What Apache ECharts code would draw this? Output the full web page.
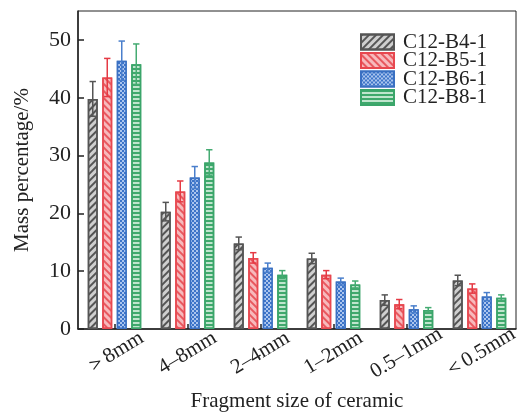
<!DOCTYPE html>
<html>
<head>
<meta charset="utf-8">
<script src="https://cdn.jsdelivr.net/npm/echarts@6/dist/echarts.min.js"></script>
<style>html,body{margin:0;padding:0;background:#fff}#c{width:518px;height:412px}</style>
</head>
<body>
<div id="c"></div>
<script>
var categories = ['＞8mm', '4–8mm', '2–4mm', '1–2mm', '0.5–1mm', '＜0.5mm'];
var seriesNames = ['C12-B4-1', 'C12-B5-1', 'C12-B6-1', 'C12-B8-1'];
var b4 = [39.8, 20.3, 14.8, 12.2, 5.0, 8.4];
var b5 = [43.5, 23.8, 12.3, 9.4, 4.3, 7.0];
var b6 = [46.4, 26.2, 10.6, 8.2, 3.4, 5.6];
var b8 = [45.8, 28.8, 9.4, 7.7, 3.3, 5.4];
var b4Err = [3.0, 1.6, 1.1, 0.9, 0.9, 0.9];
var b5Err = [3.3, 1.8, 0.9, 0.7, 0.8, 0.8];
var b6Err = [3.4, 1.9, 0.8, 0.6, 0.6, 0.7];
var b8Err = [3.5, 2.2, 0.7, 0.6, 0.4, 0.5];
var yTicks = [0, 10, 20, 30, 40, 50];

var values = [b4, b5, b6, b8];
var errs = [b4Err, b5Err, b6Err, b8Err];
var FONT = 'Liberation Serif';
var BAR_W = 10, BAR_GAP = 0.45;
var styles = [
  {fill: '#cfcfcf', border: '#555555', err: '#555555',
   decal: {symbol: 'rect', symbolSize: 1, color: '#555555', dashArrayX: [1, 0], dashArrayY: [1.3, 2.2], rotation: -Math.PI / 4}},
  {fill: '#f7b9bc', border: '#e8474f', err: '#e53a44',
   decal: {symbol: 'rect', symbolSize: 1, color: '#e8585f', dashArrayX: [1, 0], dashArrayY: [1.3, 2.2], rotation: Math.PI / 4}},
  {fill: '#3d74c8', border: '#3a70c2', err: '#4a7fcc',
   decal: {symbol: 'rect', symbolSize: 1, color: 'rgba(190,212,245,0.85)', dashArrayX: [[1.5, 1.5], [0, 1.5, 1.5, 0]], dashArrayY: [1.5, 0]}},
  {fill: '#bfe5cd', border: '#3aa56a', err: '#45ab72',
   decal: {symbol: 'rect', symbolSize: 1, color: '#3fa86c', dashArrayX: [1, 0], dashArrayY: [1.5, 2]}}
];

var n = seriesNames.length;
var total = n * BAR_W + (n - 1) * BAR_W * BAR_GAP;
function offsetOf(i) { return -total / 2 + BAR_W / 2 + i * BAR_W * (1 + BAR_GAP); }

var series = [];
seriesNames.forEach(function (name, i) {
  series.push({
    name: name, type: 'bar', data: values[i], barWidth: BAR_W, barGap: (BAR_GAP * 100) + '%',
    itemStyle: {color: styles[i].fill, borderColor: styles[i].border, borderWidth: 1.5, decal: styles[i].decal},
    emphasis: {disabled: true}
  });
});
seriesNames.forEach(function (name, i) {
  series.push({
    name: name + '-err', type: 'custom', z: 5,
    data: values[i].map(function (v, k) { return [k, v, errs[i][k]]; }),
    renderItem: function (params, api) {
      var k = api.value(0), v = api.value(1), e = api.value(2);
      var top = api.coord([k, v + e]);
      var bot = api.coord([k, v - e]);
      var x = top[0] + offsetOf(i);
      var cap = 3.2;
      var st = {stroke: styles[i].err, lineWidth: 1.5};
      return {type: 'group', children: [
        {type: 'line', shape: {x1: x, y1: top[1], x2: x, y2: bot[1]}, style: st},
        {type: 'line', shape: {x1: x - cap, y1: top[1], x2: x + cap, y2: top[1]}, style: st},
        {type: 'line', shape: {x1: x - cap, y1: bot[1], x2: x + cap, y2: bot[1]}, style: st}
      ]};
    }
  });
});

var chart = echarts.init(document.getElementById('c'));
chart.setOption({
  animation: false,
  aria: {enabled: false},
  grid: {left: 78, right: 2, top: 11, bottom: 83, show: true, borderColor: '#222', borderWidth: 1, backgroundColor: 'transparent', containLabel: false, outerBoundsMode: 'none'},
  legend: {
    data: seriesNames, orient: 'vertical', left: 360, top: 31.5, icon: 'rect', padding: 0,
    itemWidth: 33, itemHeight: 15, itemGap: -2.5,
    textStyle: {fontFamily: FONT, fontSize: 21, color: '#222', padding: [0, 0, 0, 4]},
    selectedMode: false
  },
  xAxis: {
    type: 'category', data: categories,
    name: 'Fragment size of ceramic', nameLocation: 'middle', nameGap: 62,
    nameTextStyle: {fontFamily: FONT, fontSize: 21, color: '#222'},
    axisLine: {lineStyle: {color: '#222', width: 1.5}},
    axisTick: {show: true, inside: true, alignWithLabel: true, length: 5, lineStyle: {color: '#222', width: 1.5}},
    axisLabel: {fontFamily: FONT, fontSize: 21, color: '#222', rotate: 31, align: 'center', verticalAlign: 'middle', margin: 24, interval: 0}
  },
  yAxis: {
    type: 'value', min: yTicks[0], max: 55, interval: yTicks[1] - yTicks[0],
    name: 'Mass percentage/%', nameLocation: 'middle', nameGap: 45,
    nameTextStyle: {fontFamily: FONT, fontSize: 21, color: '#222'},
    axisLine: {show: true, lineStyle: {color: '#222', width: 1.5}},
    axisTick: {show: true, inside: true, length: 6, lineStyle: {color: '#222', width: 1.5}},
    axisLabel: {fontFamily: FONT, fontSize: 22, color: '#222', margin: 7, showMaxLabel: false},
    splitLine: {show: false}
  },
  series: series
});
</script>
</body>
</html>
